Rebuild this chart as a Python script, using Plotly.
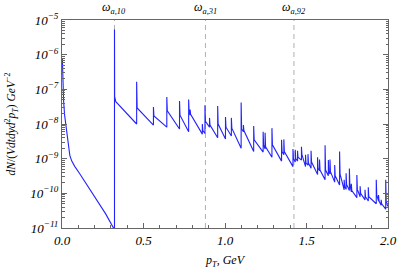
import plotly.graph_objects as go

# ---- data ----
pT = [0.002, 0.006, 0.010, 0.016, 0.028, 0.038, 0.048, 0.060, 0.078, 0.107, 0.147, 0.187, 0.227, 0.267, 0.316, 0.322,
      0.322, 0.323, 0.330, 0.458,
      0.458, 0.461, 0.561,
      0.561, 0.564, 0.643,
      0.643, 0.646, 0.721,
      0.721, 0.724, 0.777,
      0.777, 0.780, 0.786, 0.786, 0.789, 0.861,
      0.861, 0.864, 0.877,
      0.877, 0.880, 0.905,
      0.905, 0.908, 0.955,
      0.955, 0.958, 1.003,
      1.003, 1.006, 1.039,
      1.039, 1.042, 1.099,
      1.099, 1.102, 1.113, 1.113, 1.116, 1.176,
      1.176, 1.179, 1.234,
      1.234, 1.237, 1.246, 1.246, 1.249, 1.288,
      1.288, 1.291, 1.347,
      1.347, 1.350, 1.361, 1.361, 1.364, 1.417,
      1.417, 1.420, 1.431, 1.431, 1.434, 1.445, 1.445, 1.448, 1.469,
      1.469, 1.472, 1.494,
      1.494, 1.497, 1.509, 1.509, 1.512, 1.528,
      1.528, 1.531, 1.568,
      1.568, 1.571, 1.580, 1.580, 1.583, 1.614,
      1.614, 1.617, 1.634,
      1.634, 1.637, 1.644, 1.644, 1.647, 1.673,
      1.673, 1.676, 1.703,
      1.703, 1.706, 1.731,
      1.731, 1.734, 1.743,
      1.743, 1.746, 1.763,
      1.763, 1.766, 1.775,
      1.775, 1.778, 1.809,
      1.809, 1.812, 1.829,
      1.829, 1.832, 1.859,
      1.859, 1.862, 1.879,
      1.879, 1.882, 1.928,
      1.928, 1.931, 1.942,
      1.942, 1.945, 1.958,
      1.958, 1.961, 1.986,
      1.986, 1.989, 1.998]

dN = [7.9e-7, 1.2e-7, 4.5e-8, 1.8e-8, 6.8e-9, 2.75e-9, 1.25e-9, 8.5e-10, 6.0e-10, 3.8e-10, 1.95e-10, 1.0e-10, 5.1e-11, 2.6e-11, 1.0e-11, 8e-12,
      5.3e-6, 6.2e-8, 4.4e-8, 1.0e-8,
      1.66e-7, 2.9e-8, 9.3e-9,
      3.1e-8, 1.7e-8, 8.1e-9,
      6.0e-8, 2.4e-8, 7.2e-9,
      4.6e-8, 1.8e-8, 6.0e-9,
      5.1e-8, 2.1e-8, 1.8e-8, 2.6e-8, 1.9e-8, 5.1e-9,
      1.0e-8, 6.5e-9, 5.3e-9,
      3.5e-8, 1.2e-8, 8.1e-9,
      1.5e-8, 9.3e-9, 4.0e-9,
      3.3e-8, 1.0e-8, 3.7e-9,
      1.6e-8, 8.1e-9, 4.5e-9,
      1.5e-8, 7.6e-9, 2.0e-9,
      4.2e-8, 7.2e-9, 6.0e-9, 9.3e-9, 6.5e-9, 1.6e-9,
      8.7e-9, 3.5e-9, 1.55e-9,
      6.0e-9, 2.5e-9, 1.9e-9, 5.6e-9, 2.2e-9, 1.1e-9,
      7.6e-9, 2.5e-9, 8.5e-10,
      3.5e-9, 1.6e-9, 1.3e-9, 3.6e-9, 1.6e-9, 5.9e-10,
      1.9e-9, 1.0e-9, 8.0e-10, 1.8e-9, 1.0e-9, 8.5e-10, 1.7e-9, 1.1e-9, 9.1e-10,
      2.2e-9, 1.3e-9, 5.9e-10,
      1.3e-9, 7.5e-10, 6.5e-10, 1.35e-9, 7.5e-10, 5.3e-10,
      1.7e-9, 8.0e-10, 3.5e-10,
      1.1e-9, 5.3e-10, 4.5e-10, 9.5e-10, 4.7e-10, 2.45e-10,
      2.45e-9, 4.7e-10, 3.2e-10,
      9.1e-10, 4.2e-10, 3.6e-10, 9.5e-10, 4.2e-10, 2.1e-10,
      6.6e-10, 3.2e-10, 1.75e-10,
      1.6e-9, 3.6e-10, 1.26e-10,
      2.45e-10, 1.6e-10, 1.3e-10,
      3.8e-10, 1.8e-10, 1.2e-10,
      5.2e-10, 1.8e-10, 1.1e-10,
      1.9e-10, 1.2e-10, 7.5e-11,
      3.4e-10, 1.3e-10, 8.0e-11,
      1.6e-10, 1.0e-10, 6.5e-11,
      1.26e-10, 8.0e-11, 6.0e-11,
      1.5e-10, 8.0e-11, 5.0e-11,
      2.45e-10, 9.0e-11, 6.0e-11,
      9.0e-11, 6.0e-11, 4.5e-11,
      6.5e-11, 5.0e-11, 3.5e-11,
      2.45e-10, 6.0e-11, 4.2e-11]

omega_pT = [0.322, 0.88, 1.423]
omega_labels = ["ω<sub>a,10</sub>", "ω<sub>a,31</sub>", "ω<sub>a,92</sub>"]

x_tickvals = [0.0, 0.5, 1.0, 1.5, 2.0]
x_ticktext = ["0.0", "0.5", "1.0", "1.5", "2.0"]
y_exponents = [-11, -10, -9, -8, -7, -6, -5]

# ---- figure ----
SERIF = "Liberation Serif, Times New Roman, serif"
FRAME = "#666666"

fig = go.Figure()
fig.add_trace(go.Scatter(x=pT, y=dN, mode="lines",
                         line=dict(color="#2222ff", width=1.1),
                         showlegend=False, hoverinfo="skip"))

for xv, lab in zip(omega_pT, omega_labels):
    fig.add_shape(type="line", xref="x", yref="paper", x0=xv, x1=xv, y0=0, y1=1,
                  line=dict(color="#b0b0b0", width=1, dash="5px,4px"), layer="below")
    fig.add_annotation(x=xv, y=1, xref="x", yref="paper", yanchor="bottom", yshift=2,
                       text="<i>" + lab + "</i>", showarrow=False,
                       font=dict(family=SERIF, size=12, color="black"))

y_tickvals = [10.0 ** e for e in y_exponents]
y_ticktext = ["<i>10</i><sup><i>−%d</i></sup>" % (-e) for e in y_exponents]
y_minor = [m * 10.0 ** e for e in y_exponents[:-1] for m in range(2, 10)]

fig.update_layout(
    width=405, height=273,
    margin=dict(l=62, r=8, t=20, b=45),
    paper_bgcolor="white", plot_bgcolor="white",
    xaxis=dict(range=[0, 2.0], tickvals=x_tickvals,
               ticktext=["<i>%s</i>" % t for t in x_ticktext],
               ticks="inside", ticklen=5, tickcolor=FRAME,
               minor=dict(dtick=0.1, ticks="inside", ticklen=3, tickcolor=FRAME),
               showline=True, linecolor=FRAME, linewidth=1, mirror=True,
               showgrid=False, zeroline=False, ticklabeloverflow="allow",
               tickfont=dict(family=SERIF, size=13, color="black")),
    yaxis=dict(type="log", range=[-11, -5], tickvals=y_tickvals, ticktext=y_ticktext,
               ticks="inside", ticklen=5, tickcolor=FRAME,
               minor=dict(tickvals=y_minor, ticks="inside", ticklen=2.5, tickcolor=FRAME),
               showline=True, linecolor=FRAME, linewidth=1, mirror="ticks",
               showgrid=False, zeroline=False, ticklabeloverflow="allow",
               tickfont=dict(family=SERIF, size=13, color="black")),
)

fig.add_annotation(xref="paper", yref="paper", x=-0.155, y=0.5, textangle=-90,
                   xanchor="center", yanchor="middle", showarrow=False,
                   text="<i>dN</i>/(<i>Vdtdyd</i><sup>2</sup><i>p</i><sub><i>T</i></sub>) <i>GeV</i><sup>−2</sup>",
                   font=dict(family=SERIF, size=11.5, color="black"))
fig.add_annotation(xref="paper", yref="paper", x=0.5, y=0, yshift=-33,
                   xanchor="center", yanchor="middle", showarrow=False,
                   text="<i>p</i><sub><i>T</i></sub><i>, GeV</i>",
                   font=dict(family=SERIF, size=12, color="black"))

# remove the default page margin so the 405x273 figure sits at the window origin
fig.write_html("out.html",
               config={"staticPlot": True, "displayModeBar": False},
               post_script="document.body.style.margin='0';document.body.style.overflow='hidden';")
